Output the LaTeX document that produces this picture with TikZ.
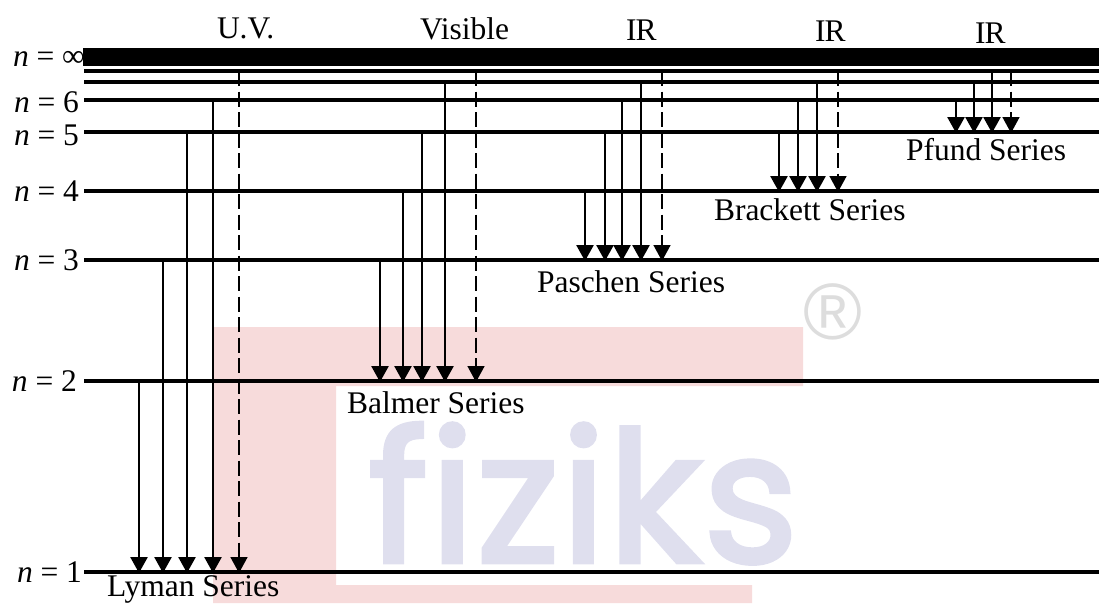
\documentclass[tikz,border=0pt]{standalone}
\usepackage{fontspec}
\setmainfont{Liberation Serif}
\newfontfamily\wmfont[FakeBold=2.5,LetterSpace=1]{Poppins}
\newfontfamily\regfont{Liberation Sans}
\usetikzlibrary{arrows.meta}
\definecolor{wmpink}{HTML}{F7DBDB}
\definecolor{wmblue}{HTML}{DFDFEE}
\definecolor{wmgray}{HTML}{DDDDDD}
\tikzset{
  x=1pt,y=-1pt,
  lvl/.style={line width=3.6pt},
  trans/.style={line width=2.6pt,-{Triangle[length=16pt,width=17pt]},shorten >=-1pt},
  transd/.style={line width=1.6pt,dash pattern=on 15pt off 5.5pt,-{Triangle[length=16pt,width=17pt]},shorten >=-1pt},
  lab/.style={anchor=base west,inner sep=0pt,outer sep=0pt,font=\fontsize{31.5pt}{34pt}\selectfont},
}
\begin{document}
\begin{tikzpicture}
\useasboundingbox (0,0) rectangle (1099,603);
\clip (0,0) rectangle (1099,603);
% watermark
\fill[wmpink] (213,327) -- (803,327) -- (803,386) -- (336,386) -- (336,585) -- (752,585) -- (752,603) -- (213,603) -- cycle;
\node[anchor=base west,inner sep=0pt,text=wmblue,font=\wmfont\fontsize{182pt}{182pt}\selectfont] (wm) at (368,562) {fiziks};
\node[anchor=center,inner sep=0pt,text=wmgray,font=\regfont\fontsize{80pt}{80pt}\selectfont] (reg) at (833,312) {®};
% levels
\foreach \nm/\yy in {inf/57,c/71,b/82,six/100,five/132,four/191,three/260,two/381,one/572}{
  \coordinate (L\nm) at (84,\yy);
  \coordinate (R\nm) at (1099,\yy);
}
\fill (83,48) rectangle (1099,66);
\foreach \nm in {c,b,six,five,four,three,two,one}{
  \draw[lvl] (L\nm) -- (R\nm);
}
% transitions
\foreach \xx/\from/\to in {139/two/one,163/three/one,187/five/one,213/six/one,
  380/three/two,403/four/two,422/five/two,445/b/two,
  585/four/three,605/five/three,622/six/three,641/b/three,
  779/five/four,798/six/four,817/b/four,
  956/six/five,974/b/five,992/c/five}{
  \draw[trans] (\xx,0 |- L\from) -- (\xx,0 |- L\to);
}
\foreach \xx/\from/\to in {239/c/one,476/c/two,662/c/three,838/c/four,1011/c/five}{
  \draw[transd] (\xx,0 |- L\from) -- (\xx,0 |- L\to);
}
% labels
\node[lab] (n8) at (13,66) {\textit{n} = ∞};
\node[lab] (n6) at (14,112.5) {\textit{n} = 6};
\node[lab] (n5) at (14,145) {\textit{n} = 5};
\node[lab] (n4) at (14,201) {\textit{n} = 4};
\node[lab] (n3) at (14,270) {\textit{n} = 3};
\node[lab] (n2) at (12,391) {\textit{n} = 2};
\node[lab] (n1) at (17,582) {\textit{n} = 1};
\node[lab] (uv) at (217,38) {U.V.};
\node[lab] (vis) at (420,39) {Visible};
\node[lab] (ir1) at (626,40) {I\kern-1ptR};
\node[lab] (ir2) at (815,41) {I\kern-1ptR};
\node[lab] (ir3) at (975,43) {I\kern-1ptR};
\node[lab] (ly) at (107,596.5) {Lyman Series};
\node[lab] (ba) at (347,413) {Balmer Series};
\node[lab] (pa) at (537,292) {Paschen Series};
\node[lab] (br) at (714,220) {Brackett Series};
\node[lab] (pf) at (906,160) {Pfund Series};
\end{tikzpicture}
\end{document}
